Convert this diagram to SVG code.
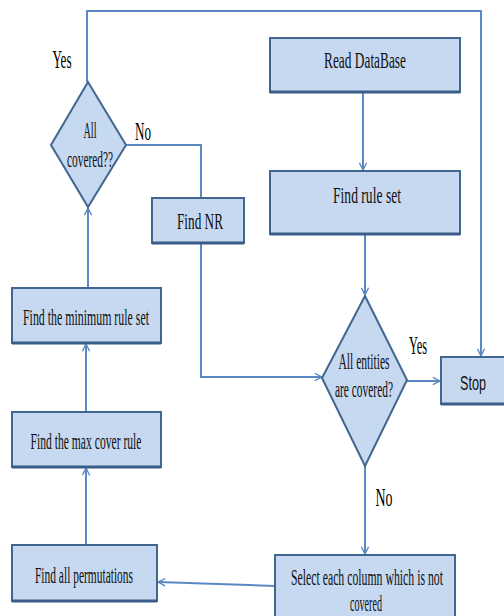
<svg xmlns="http://www.w3.org/2000/svg" width="504" height="616" viewBox="0 0 504 616">
<style>
.box{fill:#c6d9f1;stroke:#41668f;stroke-width:2}
.sh{stroke:#3a5c88;stroke-width:3;fill:none}
.dia{fill:#c6d9f1;stroke:#41668f;stroke-width:2}
.con{fill:none;stroke:#5a88c4;stroke-width:2}
.t{font-family:"Liberation Serif",serif;font-size:23px;fill:#111;text-anchor:middle}
.lb{font-family:"Liberation Serif",serif;font-size:25px;fill:#000;text-anchor:middle}
.s{font-family:"Liberation Sans",sans-serif;font-size:21px;fill:#111;text-anchor:middle}
</style>
<defs>
<marker id="ah" viewBox="0 0 10 10" refX="9" refY="5" markerWidth="9" markerHeight="9" markerUnits="userSpaceOnUse" orient="auto">
<path d="M1,1 L9,5 L1,9" fill="none" stroke="#5a88c4" stroke-width="1.5"/>
</marker>
</defs>
<rect width="504" height="616" fill="#fff"/>
<g id="connectors">
<polyline class="con" points="87,82 87,11 481,11 481,356" marker-end="url(#ah)"/>
<polyline class="con" points="126,145 201,145 201,198"/>
<polyline class="con" points="201,243 201,377 322,377" marker-end="url(#ah)"/>
<line class="con" x1="363" y1="92" x2="363" y2="170" marker-end="url(#ah)"/>
<line class="con" x1="365" y1="234" x2="365" y2="295" marker-end="url(#ah)"/>
<line class="con" x1="407" y1="381" x2="440" y2="381" marker-end="url(#ah)"/>
<line class="con" x1="365" y1="466" x2="365" y2="554" marker-end="url(#ah)"/>
<line class="con" x1="275" y1="586" x2="158" y2="582" marker-end="url(#ah)"/>
<line class="con" x1="86" y1="545" x2="86" y2="468" marker-end="url(#ah)"/>
<line class="con" x1="86" y1="412" x2="86" y2="344" marker-end="url(#ah)"/>
<line class="con" x1="88" y1="288" x2="88" y2="208" marker-end="url(#ah)"/>
</g>
<g id="labels">
<text class="lb" x="62" y="68" textLength="19" lengthAdjust="spacingAndGlyphs">Yes</text>
<text class="lb" x="143" y="140" textLength="16" lengthAdjust="spacingAndGlyphs">No</text>
<text class="lb" x="418" y="354" textLength="18" lengthAdjust="spacingAndGlyphs">Yes</text>
<text class="lb" x="384" y="506" textLength="17" lengthAdjust="spacingAndGlyphs">No</text>
</g>
<g id="all_covered">
<polygon class="dia" points="88,82 126,145 88,207 51,145"/>
<text class="t" x="90" y="138" font-size="19" textLength="13" lengthAdjust="spacingAndGlyphs" fill="#333">All</text>
<text class="t" x="90" y="167" font-size="19" textLength="46" lengthAdjust="spacingAndGlyphs" fill="#333">covered??</text>
</g>
<g id="find_nr">
<rect class="box" x="152" y="198" width="92" height="45"/>
<line class="sh" x1="152" y1="243" x2="244" y2="243"/>
<text class="t" x="200" y="229" textLength="46" lengthAdjust="spacingAndGlyphs">Find NR</text>
</g>
<g id="read_database">
<rect class="box" x="270" y="38" width="190" height="54"/>
<line class="sh" x1="270" y1="92" x2="460" y2="92"/>
<text class="t" x="365" y="68" textLength="82" lengthAdjust="spacingAndGlyphs">Read DataBase</text>
</g>
<g id="find_rule_set">
<rect class="box" x="270" y="171" width="190" height="63"/>
<line class="sh" x1="270" y1="234" x2="460" y2="234"/>
<text class="t" x="367" y="203" textLength="68" lengthAdjust="spacingAndGlyphs">Find rule set</text>
</g>
<g id="all_entities">
<polygon class="dia" points="365,296 407,380 365,466 322,378"/>
<text class="t" x="364" y="369" font-size="20" textLength="51" lengthAdjust="spacingAndGlyphs">All entities</text>
<text class="t" x="364" y="397" font-size="20" textLength="58" lengthAdjust="spacingAndGlyphs">are covered?</text>
</g>
<g id="stop">
<rect class="box" x="441" y="357" width="66" height="47"/>
<line class="sh" x1="441" y1="404" x2="507" y2="404"/>
<text class="s" x="473" y="390" textLength="26" lengthAdjust="spacingAndGlyphs">Stop</text>
</g>
<g id="select_column">
<rect class="box" x="275" y="555" width="180" height="66"/>
<text class="t" x="367" y="585" textLength="152" lengthAdjust="spacingAndGlyphs">Select each column which is not</text>
<text class="t" x="366" y="611" textLength="32" lengthAdjust="spacingAndGlyphs">covered</text>
</g>
<g id="find_permutations">
<rect class="box" x="12" y="545" width="145" height="56"/>
<line class="sh" x1="12" y1="601" x2="157" y2="601"/>
<text class="t" x="84" y="583" textLength="98" lengthAdjust="spacingAndGlyphs">Find all permutations</text>
</g>
<g id="max_cover">
<rect class="box" x="12" y="412" width="149" height="55"/>
<line class="sh" x1="12" y1="467" x2="161" y2="467"/>
<text class="t" x="86" y="449" textLength="111" lengthAdjust="spacingAndGlyphs">Find the max cover rule</text>
</g>
<g id="min_rule_set">
<rect class="box" x="12" y="288" width="149" height="55"/>
<line class="sh" x1="12" y1="343" x2="161" y2="343"/>
<text class="t" x="86" y="325" textLength="126" lengthAdjust="spacingAndGlyphs">Find the minimum rule set</text>
</g>
</svg>
